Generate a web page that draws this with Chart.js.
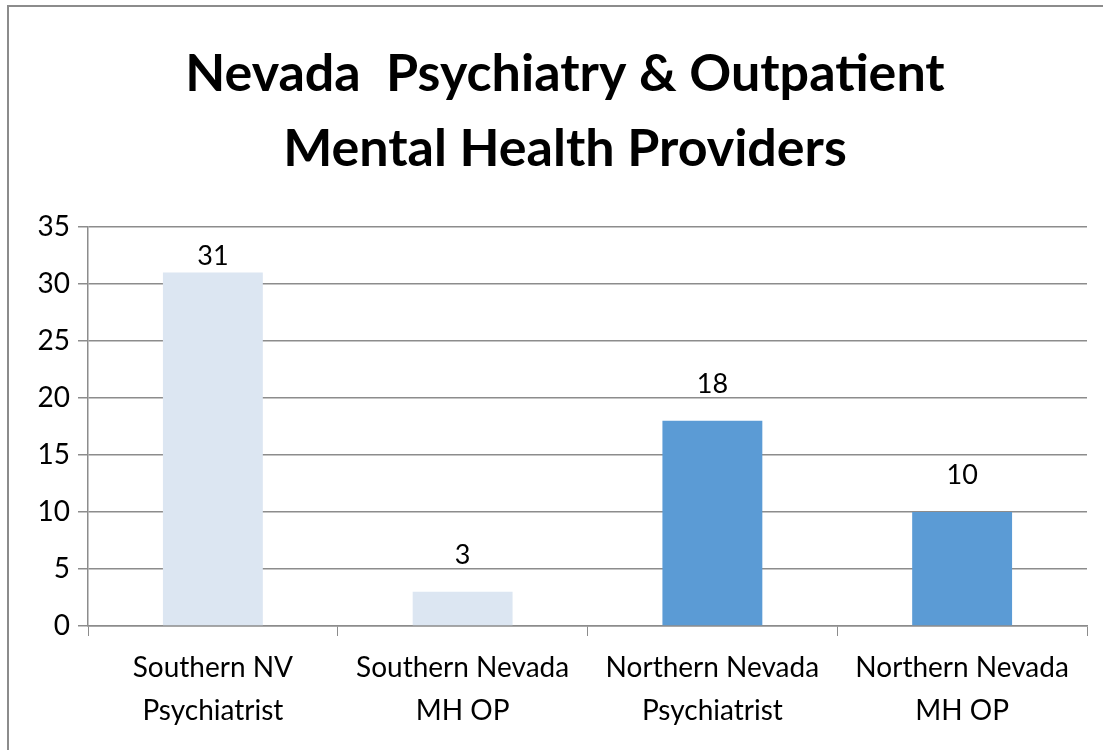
<!DOCTYPE html>
<html>
<head>
<meta charset="utf-8">
<script src="https://cdn.jsdelivr.net/npm/chart.js@4"></script>
<style>
  html, body { margin: 0; padding: 0; background: #fff; overflow: hidden; }
  #frame { position: absolute; left: 7px; top: 5px; right: -10px; bottom: -10px; border-top: 2px solid #8c8c8c; border-left: 2px solid #8c8c8c; }
  #wrap { position: absolute; left: 0; top: 0; width: 1103px; height: 750px; }
</style>
</head>
<body>
<div id="frame"></div>
<div id="wrap"><canvas id="chart"></canvas></div>
<script>
const titleLines = ['Nevada  Psychiatry & Outpatient', 'Mental Health Providers'];
const categories = [
  ['Southern NV', 'Psychiatrist'],
  ['Southern Nevada', 'MH OP'],
  ['Northern Nevada', 'Psychiatrist'],
  ['Northern Nevada', 'MH OP']
];
const providers = [31, 3, 18, 10];
const barColors = ['#dce6f2', '#dce6f2', '#5b9bd5', '#5b9bd5'];
const yMax = 35;
const yStep = 5;

const fontFamily = 'Lato, "Open Sans", sans-serif';

// title drawn by hand: it sits a bit right of the canvas centre in the original
const titleText = {
  id: 'titleText',
  afterDraw(chart) {
    const ctx = chart.ctx;
    ctx.save();
    ctx.font = 'bold 52px ' + fontFamily;
    ctx.fillStyle = '#000';
    ctx.textAlign = 'center';
    ctx.textBaseline = 'middle';
    titleLines.forEach((line, i) => ctx.fillText(line, 565, 74 + i * 75));
    ctx.restore();
  }
};

// value labels above each bar, kept inside the plot area
const valueLabels = {
  id: 'valueLabels',
  afterDatasetsDraw(chart) {
    const ctx = chart.ctx;
    const meta = chart.getDatasetMeta(0);
    const top = chart.chartArea.top;
    ctx.save();
    ctx.font = '27px ' + fontFamily;
    ctx.fillStyle = '#000';
    ctx.textAlign = 'center';
    ctx.textBaseline = 'alphabetic';
    meta.data.forEach((bar, i) => {
      const y = Math.max(bar.y - 28, top + 38);
      ctx.fillText(String(providers[i]), bar.x, y);
    });
    ctx.restore();
  }
};

new Chart(document.getElementById('chart'), {
  type: 'bar',
  data: {
    labels: categories,
    datasets: [{
      data: providers,
      backgroundColor: barColors,
      barPercentage: 0.4,
      categoryPercentage: 1
    }]
  },
  options: {
    responsive: true,
    maintainAspectRatio: false,
    animation: false,
    layout: { padding: { left: 0, right: 16, top: 227, bottom: 0 } },
    plugins: {
      legend: { display: false },
      tooltip: { enabled: false },
      title: { display: false }
    },
    scales: {
      x: {
        grid: { offset: true, drawOnChartArea: false, drawTicks: true, tickLength: 10, color: '#8c8c8c' },
        border: { color: '#8c8c8c', width: 1.5 },
        ticks: { color: '#000', font: { family: fontFamily, size: 28, lineHeight: 1.55 }, padding: 10, maxRotation: 0 },
        afterFit(scale) { scale.height = 124; }
      },
      y: {
        min: 0,
        max: yMax,
        ticks: { stepSize: yStep, color: '#000', font: { family: fontFamily, size: 28 }, padding: 8 },
        grid: { color: '#8c8c8c', lineWidth: 1.5, tickLength: 10 },
        border: { color: '#8c8c8c', width: 1.5 },
        afterFit(scale) { scale.width = 88; }
      }
    }
  },
  plugins: [valueLabels, titleText]
});
</script>
</body>
</html>
